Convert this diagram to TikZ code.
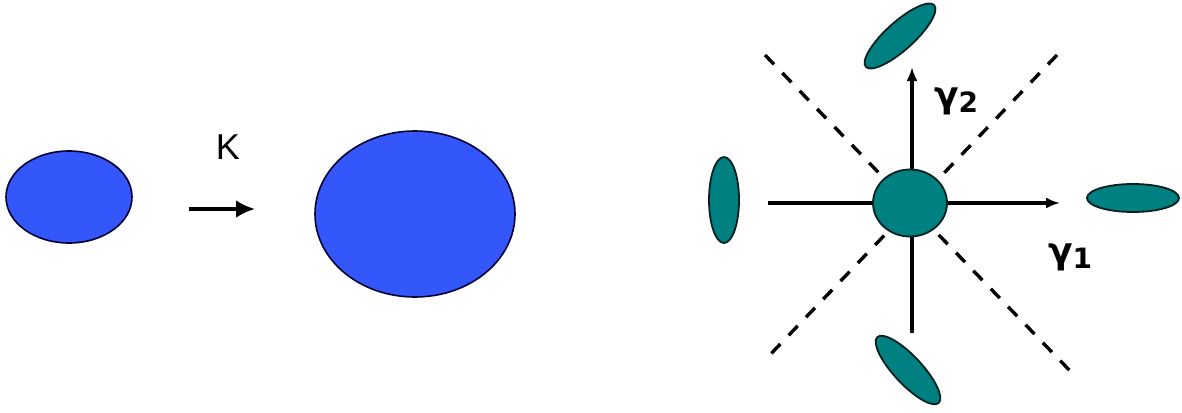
\documentclass[tikz,border=0pt]{standalone}
\usepackage{fontspec}
\setmainfont{Liberation Sans}
\newfontfamily\gfont{DejaVu Sans}
\usetikzlibrary{shapes.geometric,arrows.meta}
\definecolor{blobblue}{RGB}{51,87,250}
\definecolor{blobteal}{RGB}{0,128,128}
\tikzset{
  blob/.style={ellipse, draw=black!80!blue, line width=1.6pt, fill=blobblue, inner sep=0pt},
  tblob/.style={ellipse, draw=black!75!blobteal, line width=1.8pt, fill=blobteal, inner sep=0pt},
  axis/.style={line width=3.2pt, -{Latex[length=14pt,width=11pt]}},
  diag/.style={line width=3.4pt, dash pattern=on 13pt off 12pt},
  glab/.style={font=\gfont\bfseries\fontsize{36}{36}\selectfont, inner sep=0pt}
}
\begin{document}
\begin{tikzpicture}[x=1pt,y=-1pt]
\useasboundingbox[fill=white] (0,0) rectangle (1182,412);
% left part
\node[blob, minimum width=126pt, minimum height=92pt] (small) at (69,197) {};
\node[blob, minimum width=200pt, minimum height=166pt] (big) at (415,214) {};
\coordinate (ka) at (189,209);
\coordinate (kb) at (255,209);
\draw[line width=4.2pt, -{Latex[length=19pt,width=18pt]}] (ka) -- (kb);
\node[inner sep=0pt, font=\fontsize{36}{36}\selectfont] (K) at (228,147) {K};
% right part
\coordinate (dA1) at (765,55);
\coordinate (dA2) at (1075,376);
\coordinate (dB1) at (1057,55);
\coordinate (dB2) at (765,360);
\draw[diag] (dA1) -- (dA2);
\draw[diag] (dB1) -- (dB2);
\coordinate (hl) at (768,203);
\coordinate (hr) at (1060,203);
\coordinate (vb) at (912,333);
\coordinate (vt) at (912,67);
\draw[axis] (hl) -- (hr);
\draw[axis] (vb) -- (vt);
\node[tblob, minimum width=74pt, minimum height=67pt] (c) at (910,203) {};
\node[tblob, minimum width=92pt, minimum height=28pt] (er) at (1133,198) {};
\node[tblob, minimum width=30pt, minimum height=86pt] (el) at (724,200) {};
\node[tblob, minimum width=92pt, minimum height=28pt, rotate=42] (et) at (900,36) {};
\node[tblob, minimum width=90pt, minimum height=28pt, rotate=-47] (eb) at (908,370) {};
\node[glab, anchor=west] (g2) at (934,101) {γ\raisebox{-5pt}{\fontsize{28}{28}\selectfont 2}};
\node[glab, anchor=west] (g1) at (1048,257) {γ\raisebox{-5pt}{\fontsize{28}{28}\selectfont 1}};
\end{tikzpicture}
\end{document}
